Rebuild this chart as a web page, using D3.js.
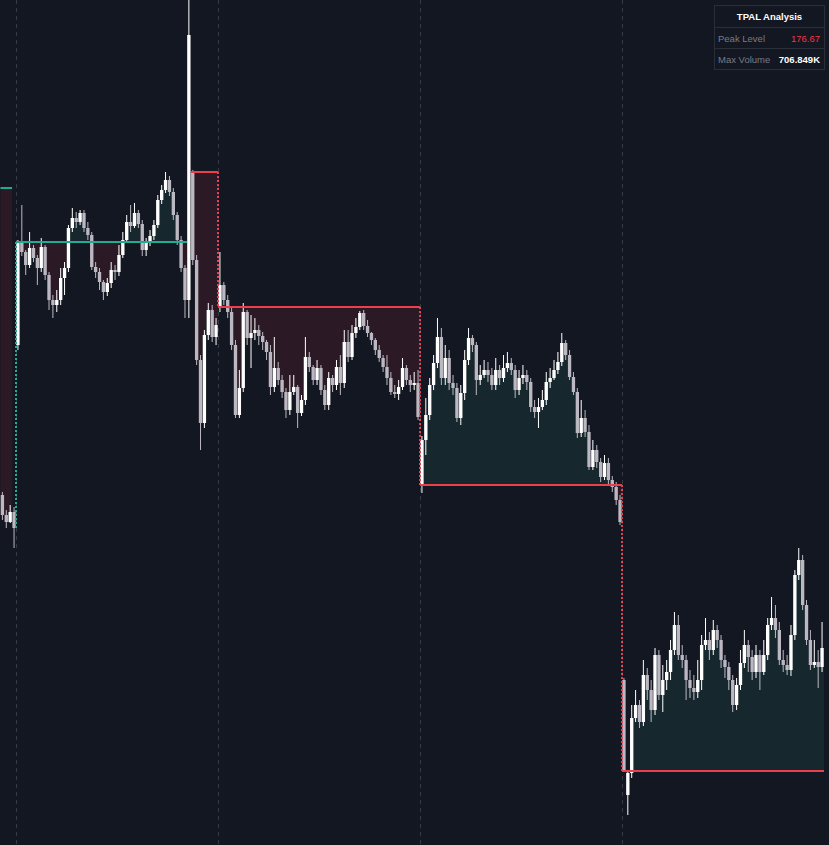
<!DOCTYPE html>
<html><head><meta charset="utf-8">
<script src="https://cdn.jsdelivr.net/npm/d3@7"></script>
<style>html,body{margin:0;padding:0;background:#131722;overflow:hidden}</style>
</head><body><svg id="c" width="829" height="845"></svg>
<script>
// ---------------- DATA ----------------
// Period 0 (partial, 4 bars)
const p0Close = [198.5, 197.8, 198.8, 197.2];
const p0High  = [200.8, 199.0, 199.5, 199.3];
const p0Low   = [198.0, 197.2, 197.7, 195.2];
// Period 1 (52 bars)
const p1Close = [225.7,224.8,223.5,225.2,224.2,223.2,225.3,222.5,220.0,219.5,220.0,222.2,223.2,227.2,228.2,227.8,228.7,227.2,226.5,223.3,222.8,221.8,220.8,221.7,223.0,222.8,224.5,226.0,227.8,227.4,228.7,227.6,225.0,225.7,226.4,227.5,230.0,231.0,232.0,230.8,228.5,226.0,223.2,220.0,246.5,224.0,214.0,207.7,216.5,219.0,216.3,217.5];
const p1High  = [226.0,229.5,225.0,226.8,225.5,224.5,226.2,225.5,222.8,220.5,221.0,223.2,223.8,227.5,229.2,228.8,229.0,229.0,227.8,226.8,223.8,223.2,222.0,222.2,223.8,223.5,225.5,226.8,228.5,229.5,229.7,229.0,228.0,226.2,227.0,228.0,230.5,231.5,232.8,232.4,231.2,228.8,226.4,223.5,250.5,233.0,224.5,214.5,217.0,219.7,219.5,218.2];
const p1Low   = [215.0,224.4,222.5,223.2,223.8,221.5,222.8,222.0,219.0,218.2,218.8,219.5,220.5,222.8,226.8,227.2,227.5,226.8,226.0,223.0,222.2,221.0,220.0,220.4,221.2,222.0,222.4,224.2,225.7,226.8,227.2,227.2,224.4,224.4,225.4,226.0,227.2,229.6,230.7,230.4,228.0,225.5,222.8,218.2,218.2,223.5,213.5,205.0,207.2,216.0,215.8,215.5];
// Period 2 (52 bars)
const p2Close = [221.5,220.0,218.8,215.5,208.5,211.2,218.8,216.2,216.7,217.0,216.4,215.8,214.8,211.3,213.2,212.0,210.8,209.0,210.8,211.3,208.7,210.0,214.3,213.3,212.0,213.2,211.0,209.5,212.2,211.5,213.3,211.7,215.8,214.3,216.7,217.3,218.7,217.4,216.7,216.0,215.0,214.2,213.3,212.2,210.8,210.6,211.3,213.2,212.0,211.5,211.7,208.3];
const p2High  = [224.8,221.8,220.5,219.2,216.0,213.0,219.7,219.0,218.5,218.2,217.5,216.8,216.0,215.5,216.3,213.8,212.5,211.2,212.5,212.5,211.5,210.5,216.3,214.8,213.5,214.0,213.5,211.5,212.8,212.5,214.0,214.5,217.0,217.0,217.5,218.2,218.9,219.0,218.0,216.8,216.2,215.5,214.5,214.5,212.8,211.5,212.0,214.2,213.5,212.5,212.8,213.0];
const p2Low   = [218.8,219.5,218.2,215.0,208.2,208.2,210.8,215.5,213.2,216.0,215.5,215.0,214.0,210.5,210.8,211.5,210.2,208.2,208.5,210.5,207.2,208.4,209.5,212.8,211.5,211.5,210.5,209.0,209.0,210.8,211.0,210.5,211.2,213.8,214.0,216.2,217.0,217.0,216.3,215.5,214.5,213.8,212.8,211.5,210.5,210.2,210.0,211.0,211.5,210.8,211.0,208.0];
// Period 3 (52 bars)
const p3Close = [206.0,208.5,211.5,213.7,216.3,212.2,214.2,211.7,211.2,208.2,210.7,214.0,216.2,215.5,212.0,212.5,213.0,212.5,211.5,213.0,212.2,213.2,213.7,213.0,211.0,212.2,212.5,211.8,209.3,208.8,209.3,210.0,211.8,212.2,213.0,213.8,215.7,214.5,212.3,210.8,206.7,208.2,206.8,203.3,205.0,203.8,202.3,203.7,202.0,201.3,200.0,197.8];
const p3High  = [206.4,210.2,212.2,214.5,218.2,217.2,215.5,215.0,212.5,211.7,211.5,215.0,217.2,216.5,215.8,213.5,214.0,213.8,213.2,214.2,213.5,214.5,214.8,214.2,213.5,213.0,213.5,213.0,212.2,210.0,210.2,211.0,212.8,213.2,214.0,214.8,216.7,216.0,215.0,212.8,211.2,210.0,209.0,207.5,206.0,205.5,204.2,204.5,204.2,202.4,201.8,200.5];
const p3Low   = [200.7,204.5,208.0,211.0,213.2,211.5,211.5,211.0,210.5,207.8,207.5,210.0,213.5,214.8,210.5,211.5,212.2,211.8,211.0,211.0,211.5,211.8,212.8,212.5,210.2,210.5,211.6,211.0,208.8,208.2,207.2,209.0,209.5,211.2,212.0,212.6,213.4,214.0,212.0,210.5,206.2,206.3,206.3,203.0,203.0,203.2,201.8,202.0,201.6,200.8,199.5,197.5];
// Period 4 (52 bars)
const p4Close = [173.0,172.7,178.2,179.5,177.8,182.5,181.0,179.0,184.5,180.5,182.0,182.8,185.0,187.5,184.5,184.0,182.0,181.2,180.8,182.0,185.5,186.0,185.0,187.0,186.0,184.0,183.3,182.0,179.5,181.5,183.7,185.5,184.3,182.8,184.5,182.8,184.5,187.5,188.2,187.0,184.0,183.5,183.0,186.5,192.5,194.0,189.5,186.0,183.5,183.8,183.3,185.2];
const p4High  = [182.2,173.0,179.5,181.0,180.0,184.0,183.2,182.0,185.2,185.0,183.5,184.0,186.0,188.8,188.5,185.5,184.5,183.0,182.5,184.0,186.5,188.2,186.8,188.0,187.5,186.5,184.5,183.8,182.5,182.2,185.0,187.0,186.0,185.0,185.5,185.0,186.0,188.2,190.3,189.5,187.8,185.0,184.5,187.5,193.0,195.2,194.5,190.0,187.0,186.0,185.0,187.8];
const p4Low   = [172.8,168.5,172.2,177.8,177.2,177.4,180.0,177.8,178.5,180.0,178.8,181.0,182.0,184.5,184.0,183.2,180.0,180.2,180.0,180.2,181.0,185.0,184.0,184.5,185.2,183.2,182.2,181.0,178.8,179.0,181.0,183.2,182.8,182.0,182.2,181.0,182.5,184.0,187.0,186.2,183.5,182.8,182.5,182.4,186.0,192.0,189.0,185.5,183.0,183.2,181.2,182.8];
// Opens that gap away from the previous close (bar index -> open)
const gapOpens = {0: 200.5, 4: 215.5, 49: 232.8, 56: 219.3, 108: 201.5, 160: 182.0, 161: 170.5};

// Session starts (bar index)
const sessionStarts = [4, 56, 108, 160];

// Anchored levels
const levelStart = [0, 4, 49, 56, 108, 160];
const levelEnd   = [3, 48, 56, 108, 160, 212];
const levelPrice = [231.2, 225.8, 232.8, 219.3, 201.5, 172.9];
const levelBias  = ['up', 'up', 'down', 'down', 'down', 'down'];

// Level transitions (dotted connectors)
const connIndex = [4, 56, 108, 160];
const connFrom  = [225.8, 232.8, 219.3, 201.5];
const connTo    = [197.2, 219.3, 201.5, 172.9];
const connBias  = ['up', 'down', 'down', 'down'];

// Info table
const infoTitle  = 'TPAL Analysis';
const infoLabels = ['Peak Level', 'Max Volume'];
const infoValues = ['176.67', '706.849K'];

// ---------------- BUILD ----------------
const closes = [...p0Close, ...p1Close, ...p2Close, ...p3Close, ...p4Close];
const highs  = [...p0High, ...p1High, ...p2High, ...p3High, ...p4High];
const lows   = [...p0Low, ...p1Low, ...p2Low, ...p3Low, ...p4Low];
const bars = closes.map((c, i) => ({
  i, c, h: highs[i], l: lows[i],
  o: (gapOpens[i] !== undefined) ? gapOpens[i] : closes[i - 1]
}));

const W = 829, H = 845;
const COL = {
  bg: '#131722', sep: '#363a45',
  up: '#22ab94', down: '#ec3f4e',
  upFill: '#16282e', downFill: '#2b1a25',
  bull: '#ffffff', bear: '#bcb8c2'
};

const svg = d3.select('#c');
svg.append('rect').attr('width', W).attr('height', H).attr('fill', COL.bg);

const x = d3.scaleLinear().domain([4, 56]).range([16, 218]);
const y = d3.scaleLinear().domain([165.5, 250]).range([H, 0]);
const bw = (x(1) - x(0)) * 0.86;

// session separators
svg.append('g').selectAll('line').data(sessionStarts).join('line')
  .attr('x1', d => Math.round(x(d)) + 0.5).attr('x2', d => Math.round(x(d)) + 0.5)
  .attr('y1', 0).attr('y2', H)
  .attr('stroke', COL.sep).attr('stroke-width', 1).attr('stroke-dasharray', '4,4');

// fills between level and closes
const levels = levelStart.map((s, k) => ({ s, e: levelEnd[k], p: levelPrice[k], bias: levelBias[k] }));
const fillG = svg.append('g');
levels.forEach(L => {
  const pts = [];
  for (let i = L.s; i < L.e; i++) {
    pts.push({ x: x(i), c: bars[i].c });
    pts.push({ x: x(i + 1), c: bars[i].c });
  }
  const upArea = d3.area().x(d => d.x).y0(y(L.p)).y1(d => y(Math.max(d.c, L.p)));
  const dnArea = d3.area().x(d => d.x).y0(y(L.p)).y1(d => y(Math.min(d.c, L.p)));
  fillG.append('path').attr('d', upArea(pts)).attr('fill', COL.upFill);
  fillG.append('path').attr('d', dnArea(pts)).attr('fill', COL.downFill);
});

// candles
const cg = svg.append('g');
const cx = d => x(d.i + 0.5);
cg.selectAll('line.w').data(bars).join('line').attr('class', 'w')
  .attr('x1', d => cx(d)).attr('x2', d => cx(d))
  .attr('y1', d => y(d.h)).attr('y2', d => y(d.l))
  .attr('stroke', d => d.c >= d.o ? COL.bull : COL.bear).attr('stroke-width', 1);
cg.selectAll('rect.b').data(bars).join('rect').attr('class', 'b')
  .attr('x', d => cx(d) - bw / 2).attr('width', bw)
  .attr('y', d => y(Math.max(d.o, d.c)))
  .attr('height', d => Math.max(1, Math.abs(y(d.o) - y(d.c))))
  .attr('fill', d => d.c >= d.o ? COL.bull : COL.bear);

// level lines
svg.append('g').selectAll('line').data(levels).join('line')
  .attr('x1', d => x(d.s)).attr('x2', d => x(d.e))
  .attr('y1', d => y(d.p)).attr('y2', d => y(d.p))
  .attr('stroke', d => COL[d.bias]).attr('stroke-width', 2);

// connectors
const conns = connIndex.map((c, k) => ({ c, f: connFrom[k], t: connTo[k], bias: connBias[k] }));
svg.append('g').selectAll('line').data(conns).join('line')
  .attr('x1', d => Math.round(x(d.c))).attr('x2', d => Math.round(x(d.c)))
  .attr('y1', d => y(d.f)).attr('y2', d => y(d.t))
  .attr('stroke', d => COL[d.bias]).attr('stroke-width', 2).attr('stroke-dasharray', '2,2');

// info table
const tb = svg.append('g').attr('font-family', 'Liberation Sans, Arial, sans-serif');
tb.append('rect').attr('x', 714.5).attr('y', 5.5).attr('width', 110).attr('height', 64)
  .attr('fill', '#131722').attr('stroke', '#2a2e39');
[27.5, 48.5].forEach(v => tb.append('line').attr('x1', 715).attr('x2', 824).attr('y1', v).attr('y2', v).attr('stroke', '#2a2e39'));
tb.append('text').attr('x', 769.5).attr('y', 20).attr('text-anchor', 'middle')
  .attr('font-size', 9.5).attr('font-weight', 'bold').attr('fill', '#ffffff').text(infoTitle);
infoLabels.forEach((lab, k) => {
  const yy = 41.5 + k * 21.5;
  tb.append('text').attr('x', 718).attr('y', yy).attr('font-size', 9.5).attr('fill', '#787b86').text(lab);
  tb.append('text').attr('x', 820).attr('y', yy).attr('text-anchor', 'end').attr('font-size', 9.5)
    .attr('font-weight', k === 1 ? 'bold' : 'normal')
    .attr('fill', k === 0 ? '#f23645' : '#ffffff').text(infoValues[k]);
});
</script></body></html>
